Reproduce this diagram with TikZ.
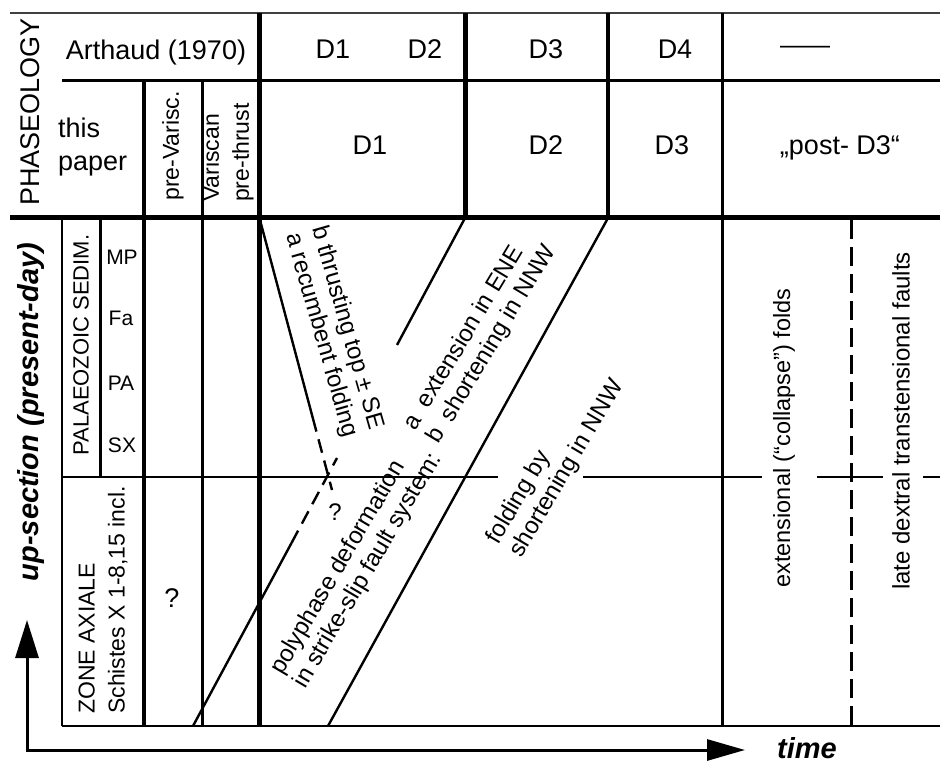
\documentclass[tikz,border=0pt]{standalone}
\usepackage{fontspec}
\setmainfont{Liberation Sans}
\usetikzlibrary{arrows.meta}
\begin{document}
\begin{tikzpicture}[x=1pt,y=-1pt,
  rulethin/.style={line width=1.4pt},
  rulemid/.style={line width=3pt},
  rulethick/.style={line width=5pt},
  diagline/.style={line width=2.4pt},
  dashpart/.style={line width=2.4pt, dash pattern=on 14pt off 8pt},
  vdash/.style={line width=3pt, dash pattern=on 19pt off 8pt},
  big/.style={inner sep=0pt, font=\fontsize{27}{30}\selectfont},
  mid/.style={inner sep=0pt, font=\fontsize{23}{29}\selectfont},
  sml/.style={inner sep=0pt, font=\fontsize{21}{25}\selectfont},
  diag/.style={inner sep=0pt, align=left, anchor=west, font=\fontsize{24}{27}\selectfont},
  axislab/.style={inner sep=0pt, font=\fontsize{29}{32}\selectfont\bfseries\itshape},
]
\useasboundingbox (0,0) rectangle (940,765);

% ---------- horizontal rules
\coordinate (tl) at (10,13);   \coordinate (tr) at (940,13);
\coordinate (h1l) at (62,81);  \coordinate (h1r) at (940,81);
\coordinate (h2l) at (10,217); \coordinate (h2r) at (940,217);
\coordinate (bl) at (62,726);  \coordinate (br) at (940,726);
\draw[rulethin, black!75] (tl) -- (tr);
\draw[rulemid] (h1l) -- (h1r);
\draw[rulethick] (h2l) -- (h2r);
\draw[line width=2pt] (bl) -- (br);

% thin horizontal split line with gaps
\coordinate (m1) at (62,477);  \coordinate (m2) at (498,477);
\coordinate (m3) at (583,477); \coordinate (m4) at (762,477);
\coordinate (m5) at (817,477); \coordinate (m6) at (883,477);
\coordinate (m7) at (923,477); \coordinate (m8) at (940,477);
\draw[line width=1.3pt] (m1) -- (m2) (m3) -- (m4) (m5) -- (m6) (m7) -- (m8);

% ---------- vertical rules
\coordinate (v259t) at (259,13);  \coordinate (v259b) at (259,726);
\coordinate (v465t) at (465,13);  \coordinate (v465b) at (465,217);
\coordinate (v608t) at (608,13);  \coordinate (v608b) at (608,217);
\coordinate (v722t) at (722,13);  \coordinate (v722b) at (722,726);
\coordinate (v144t) at (144,81);  \coordinate (v144b) at (144,726);
\coordinate (v202t) at (202,81);  \coordinate (v202b) at (202,726);
\coordinate (v62t)  at (62,217);  \coordinate (v62b)  at (62,726);
\coordinate (v100t) at (100,217); \coordinate (v100b) at (100,477);
\coordinate (v851t) at (851,220); \coordinate (v851b) at (851,726);
\draw[rulethick] (v259t) -- (v259b);
\draw[rulethick] (v465t) -- (v465b);
\draw[line width=4pt] (v608t) -- (v608b);
\draw[rulemid] (v722t) -- (v722b);
\draw[line width=4pt] (v144t) -- (v144b);
\draw[rulemid] (v202t) -- (v202b);
\draw[line width=2.5pt] (v62t) -- (v62b);
\draw[rulemid] (v100t) -- (v100b);
\draw[vdash] (v851t) -- (v851b);

% ---------- diagonal lines
\coordinate (dA1) at (260,220); \coordinate (dA2) at (312.8,418); \coordinate (dA3) at (332,490);
\coordinate (uA1) at (193,726); \coordinate (uA2) at (291.5,543); \coordinate (uA3) at (337,458);
\draw[diagline] (dA1) -- (dA2);
\draw[dashpart] (dA2) -- (dA3);
\draw[diagline] (uA1) -- (uA2);
\draw[dashpart] (uA2) -- (uA3);
\coordinate (s1) at (465,218); \coordinate (s2) at (397,345);
\draw[diagline] (s1) -- (s2);
\coordinate (f1) at (608,218); \coordinate (f2) at (328,726);
\draw[diagline] (f1) -- (f2);

% ---------- axes
\coordinate (upTip) at (27,620);
\coordinate (corner) at (27,750);
\coordinate (timeTip) at (745,750);
\draw[line width=3pt, {Triangle[length=38pt,width=23pt]}-{Triangle[length=38pt,width=21pt]}]
  (upTip) -- (corner) -- (timeTip);
\node[axislab, rotate=90] (upsec) at (31,412) {up-section (present-day)};
\node[axislab, anchor=base] (time) at (807,758) {time};

% ---------- header texts
\node[big, rotate=90] (phas) at (30,112) {PHASEOLOGY};
\node[big, anchor=base] (arth) at (156,60) {Arthaud (1970)};
\node[big, anchor=base] (aD1) at (333,59) {D1};
\node[big, anchor=base] (aD2) at (425,59) {D2};
\node[big, anchor=base] (aD3) at (546,59) {D3};
\node[big, anchor=base] (aD4) at (675,59) {D4};
\node[inner sep=0pt, font=\fontsize{25}{28}\selectfont] (aDash) at (805,50) {——};
\node[big, anchor=base west] (this) at (58,138) {this};
\node[big, anchor=base west] (paper) at (58,171) {paper};
\node[mid, rotate=90] (prev) at (173,146) {pre-Varisc.};
\node[mid, rotate=90, align=left, anchor=west, font=\fontsize{23}{30}\selectfont] (vpt) at (228,202) {Variscan\\pre-thrust};
\node[big, anchor=base] (pD1) at (370,155) {D1};
\node[big, anchor=base] (pD2) at (546,155) {D2};
\node[big, anchor=base] (pD3) at (672,155) {D3};
\node[big, anchor=base] (post) at (840,155) {„post- D3“};

% ---------- left column texts
\node[inner sep=0pt, rotate=90, font=\fontsize{22}{26}\selectfont] (pal) at (81,345) {PALAEOZOIC SEDIM.};
\node[sml] (mp) at (122,257) {MP};
\node[sml] (fa) at (121,318) {Fa};
\node[sml] (pa) at (121,383) {PA};
\node[sml] (sx) at (122,445) {SX};
\node[mid, rotate=90, align=left, anchor=west, font=\fontsize{23}{30}\selectfont] (za) at (103,714) {ZONE AXIALE\\Schistes X 1-8,15 incl.};
\node[big] (q1) at (172,598) {?};

% ---------- diagonal texts
\node[diag, rotate=-74] (tA) at (305,230) {b thrusting top ± SE\\a recumbent folding};
\node[diag, rotate=59] (tB) at (422,435) {a\hspace{0.5em}extension in ENE\\b\hspace{0.5em}shortening in NNW};
\node[diag, rotate=59.5] (tC) at (288.5,679.5) {polyphase deformation\\in strike-slip fault system:};
\node[diag, rotate=59.5] (tD) at (504.5,549) {folding by\\shortening in NNW};
\node[inner sep=0pt, font=\fontsize{24}{27}\selectfont] (q2) at (335,512) {?};

% ---------- right texts
\node[inner sep=0pt, rotate=90, font=\fontsize{23.5}{27}\selectfont] (ext) at (784,438) {extensional (“collapse”) folds};
\node[inner sep=0pt, rotate=90, font=\fontsize{24}{27}\selectfont] (late) at (901,421) {late dextral transtensional faults};
\end{tikzpicture}
\end{document}
